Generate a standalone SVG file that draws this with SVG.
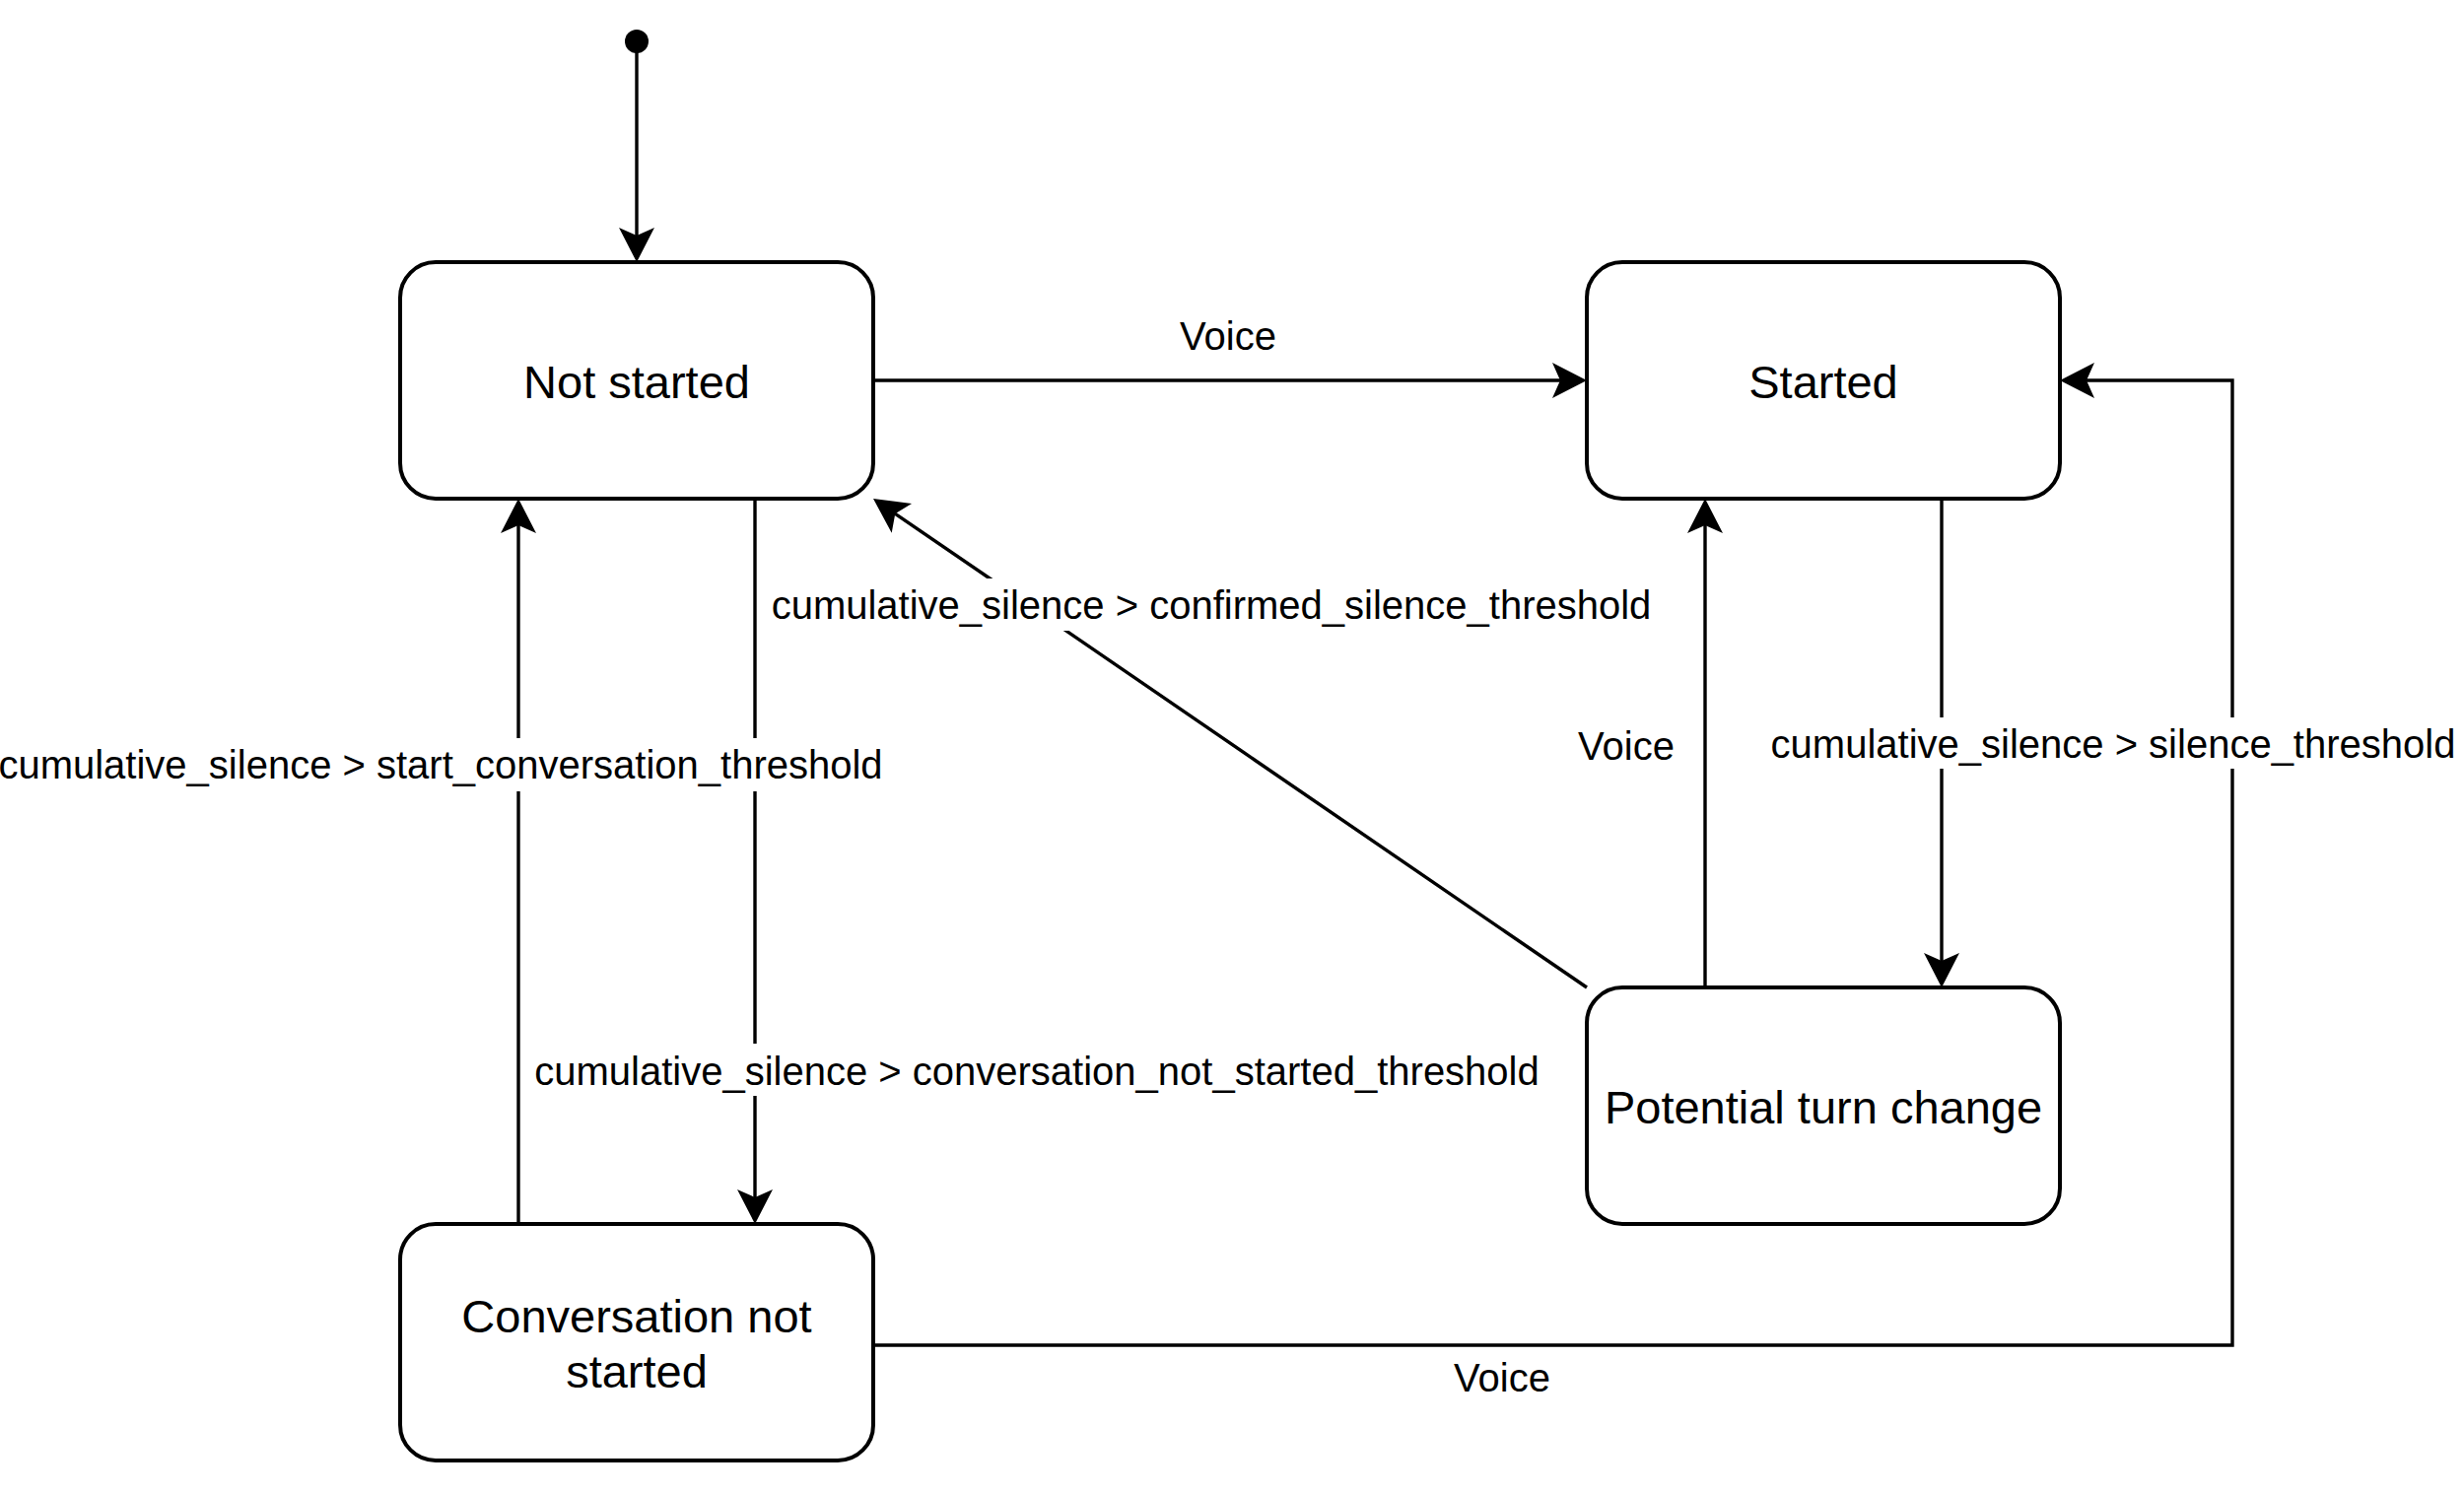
<svg xmlns="http://www.w3.org/2000/svg" width="2500" height="1516" viewBox="0 0 2500 1516">
  <style>
    .node rect { fill: #ffffff; stroke: #000000; stroke-width: 4; }
    .node text { font-family: "Liberation Sans", Arial, Helvetica, sans-serif; font-size: 47px; fill: #000000; text-anchor: middle; }
    .edge { fill: none; stroke: #000000; stroke-width: 3.4; marker-end: url(#arrow); }
    .lbl { font-family: "Liberation Sans", Arial, Helvetica, sans-serif; font-size: 40px; fill: #000000; text-anchor: middle; }
    .lblbg { fill: #ffffff; stroke: none; }
  </style>
  <defs>
    <marker id="arrow" markerUnits="userSpaceOnUse" orient="auto" viewBox="-40 -20 45 40" markerWidth="45" markerHeight="40" refX="-20" refY="0" overflow="visible">
      <path d="M0,0 L-35,-18 L-27,0 L-35,18 Z" fill="#000000" stroke="none"/>
    </marker>
  </defs>
  <rect x="0" y="0" width="2500" height="1516" fill="#ffffff"/>

  <g id="connectors">
    <g id="edge-initial">
      <circle cx="646" cy="42" r="12" fill="#000000"/>
      <path class="edge" d="M646,42 L646,246"/>
    </g>
    <g id="edge-notstarted-started">
      <path class="edge" d="M886,386 L1590,386"/>
      <text class="lbl" x="1246" y="355">Voice</text>
    </g>
    <g id="edge-started-ptc">
      <path class="edge" d="M1970,506 L1970,982"/>
    </g>
    <g id="edge-ptc-started">
      <path class="edge" d="M1730,1002 L1730,526"/>
      <text class="lbl" x="1650" y="771">Voice</text>
    </g>
    <g id="edge-ptc-notstarted">
      <path class="edge" d="M1610,1002 L902.5,517.3"/>
    </g>
    <g id="edge-notstarted-cns">
      <path class="edge" d="M766,506 L766,1222"/>
    </g>
    <g id="edge-cns-notstarted">
      <path class="edge" d="M526,1242 L526,526"/>
    </g>
    <g id="edge-cns-started">
      <path class="edge" d="M886,1365 L2265,1365 L2265,386 L2110,386"/>
      <text class="lbl" x="1524" y="1412">Voice</text>
    </g>
    <g id="edge-labels">
      <rect class="lblbg" x="1795" y="728" width="698" height="52"/>
      <text class="lbl" x="2144" y="769">cumulative_silence &gt; silence_threshold</text>
      <rect class="lblbg" x="780" y="587" width="898" height="53"/>
      <text class="lbl" x="1229" y="628">cumulative_silence &gt; confirmed_silence_threshold</text>
      <rect class="lblbg" x="0" y="749" width="895" height="54"/>
      <text class="lbl" x="447" y="790">cumulative_silence &gt; start_conversation_threshold</text>
      <rect class="lblbg" x="533" y="1059" width="1038" height="53"/>
      <text class="lbl" x="1052" y="1101">cumulative_silence &gt; conversation_not_started_threshold</text>
    </g>
  </g>

  <g id="node-not-started" class="node">
    <rect x="406" y="266" width="480" height="240" rx="36" ry="36"/>
    <text x="646" y="404">Not started</text>
  </g>
  <g id="node-started" class="node">
    <rect x="1610" y="266" width="480" height="240" rx="36" ry="36"/>
    <text x="1850" y="404">Started</text>
  </g>
  <g id="node-potential-turn-change" class="node">
    <rect x="1610" y="1002" width="480" height="240" rx="36" ry="36"/>
    <text x="1850" y="1140">Potential turn change</text>
  </g>
  <g id="node-conversation-not-started" class="node">
    <rect x="406" y="1242" width="480" height="240" rx="36" ry="36"/>
    <text x="646" y="1352">Conversation not</text>
    <text x="646" y="1408">started</text>
  </g>
</svg>
